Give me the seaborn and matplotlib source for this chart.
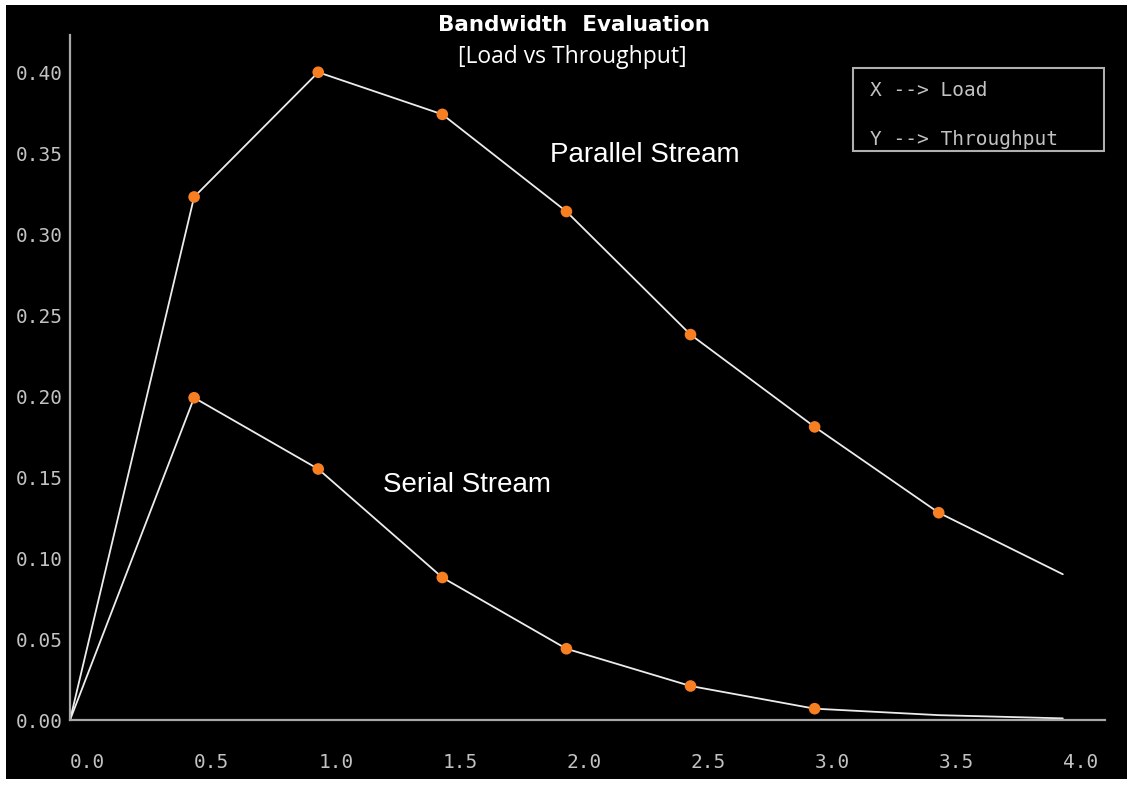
import matplotlib
matplotlib.use("Agg")
import matplotlib.pyplot as plt
from matplotlib.patches import Rectangle
import numpy as np
import pandas as pd
import seaborn as sns

# data
load = [0.0, 0.5, 1.0, 1.5, 2.0, 2.5, 3.0, 3.5, 4.0]
parallel = [0.0, 0.323, 0.400, 0.374, 0.314, 0.238, 0.181, 0.128, 0.090]
serial = [0.0, 0.199, 0.155, 0.088, 0.044, 0.021, 0.007, 0.003, 0.001]
parallel_marked = [False, True, True, True, True, True, True, True, False]
serial_marked = [False, True, True, True, True, True, True, False, False]

xticks = [0.0, 0.5, 1.0, 1.5, 2.0, 2.5, 3.0, 3.5, 4.0]
xtick_labels = ["0.0", "0.5", "1.0", "1.5", "2.0", "2.5", "3.0", "3.5", "4.0"]
yticks = [0.00, 0.05, 0.10, 0.15, 0.20, 0.25, 0.30, 0.35, 0.40]
ytick_labels = ["0.00", "0.05", "0.10", "0.15", "0.20", "0.25", "0.30", "0.35", "0.40"]

df = pd.DataFrame({
    "load": load * 2,
    "throughput": parallel + serial,
    "stream": ["Parallel Stream"] * len(load) + ["Serial Stream"] * len(load),
    "marked": parallel_marked + serial_marked,
})

sns.set_theme(style="dark", rc={
    "axes.facecolor": "black",
    "figure.facecolor": "white",
    "axes.edgecolor": "#a8a8a8",
})

fig = plt.figure(figsize=(11.33, 7.85), dpi=100)
# black canvas with a thin white frame, like the screenshot
fig.patches.append(Rectangle((6 / 1133, 6 / 785), 1 - 12 / 1133, 1 - 11 / 785,
                             transform=fig.transFigure, facecolor="black",
                             edgecolor="none", zorder=-10))
ax = fig.add_axes([0.0618, 0.0828, 0.9135, 0.8726])

sns.lineplot(data=df, x="load", y="throughput", units="stream", estimator=None,
             color="#ececec", linewidth=1.3, ax=ax, legend=False)
sns.scatterplot(data=df[df.marked], x="load", y="throughput", color="#f77f22",
                s=70, edgecolor="none", ax=ax, legend=False, zorder=3)

ax.set_xlim(0, 4.17)
ax.set_ylim(0, 0.423)
ax.grid(False)
for side in ["top", "right"]:
    ax.spines[side].set_visible(False)
for side in ["left", "bottom"]:
    ax.spines[side].set_linewidth(1.6)
    ax.spines[side].set_color("#a8a8a8")

mono = "DejaVu Sans Mono"
tick_color = "#c2c2c2"
ax.set_xticks(xticks)
ax.set_xticklabels(xtick_labels, family=mono, fontsize=14, color=tick_color,
                   ha="left")
ax.set_yticks(yticks)
ax.set_yticklabels(ytick_labels, family=mono, fontsize=14, color=tick_color)
ax.tick_params(axis="x", length=0, pad=24)
ax.tick_params(axis="y", length=0, pad=5)
ax.set_xlabel("")
ax.set_ylabel("")

# stream labels
ax.text(1.935, 0.3488, "Parallel Stream", color="white", fontsize=20,
        family="Liberation Sans", ha="left", va="center")
ax.text(1.262, 0.145, "Serial Stream", color="white", fontsize=20,
        family="Liberation Sans", ha="left", va="center")

# axis key box
ax.add_patch(Rectangle((0.7565, 0.8307), 0.2425, 0.1212, transform=ax.transAxes,
                       fill=False, edgecolor="#b0b0b0", linewidth=1.5))
ax.text(0.773, 0.9197, "X --> Load", transform=ax.transAxes, family=mono,
        fontsize=14, color=tick_color, va="center")
ax.text(0.773, 0.848, "Y --> Throughput", transform=ax.transAxes, family=mono,
        fontsize=14, color=tick_color, va="center")

fig.text(0.507, 0.968, "Bandwidth  Evaluation", color="white", fontsize=15.5,
         fontweight="bold", family="DejaVu Sans", ha="center", va="center")
fig.text(0.505, 0.927, "[Load vs Throughput]", color="white", fontsize=16.5,
         family="Open Sans", ha="center", va="center")

fig.savefig("out.png", dpi=100)
